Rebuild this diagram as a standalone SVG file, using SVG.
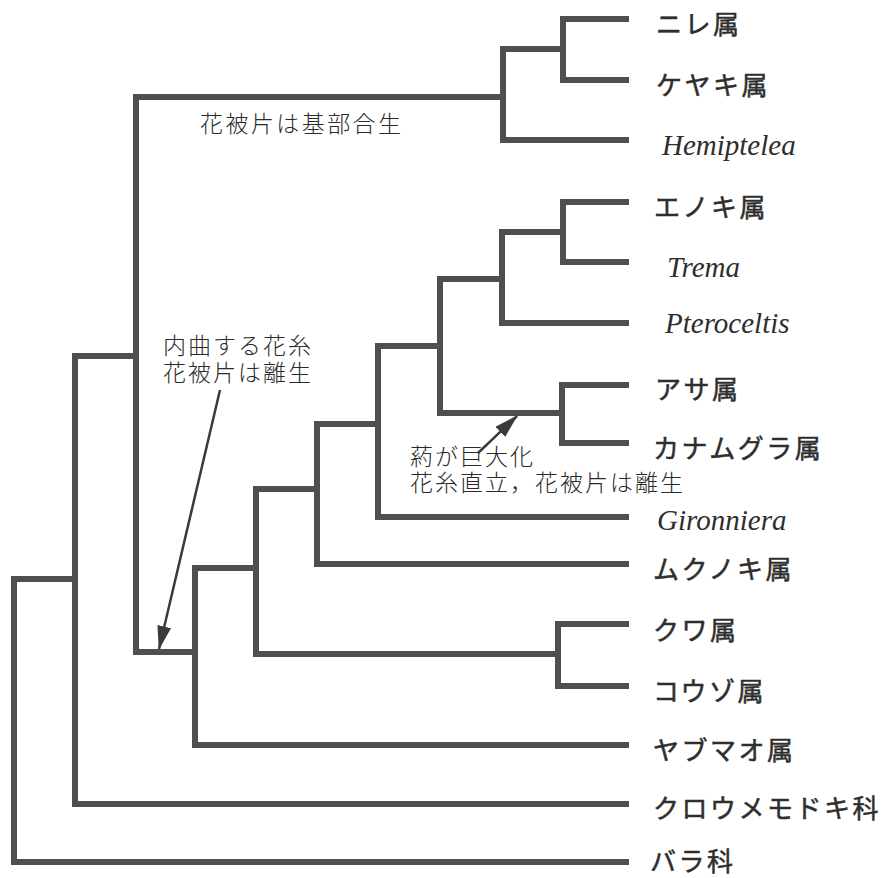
<svg xmlns="http://www.w3.org/2000/svg" width="887" height="878" viewBox="0 0 887 878">
<style>
.br{fill:none;stroke:#4f4f4f;stroke-width:6;stroke-linejoin:miter;stroke-linecap:square}
.lf{font-family:"Noto Sans CJK JP","Noto Sans",sans-serif;font-size:26px;font-weight:400;fill:#2e2e2e;stroke:#2e2e2e;stroke-width:0.5px;letter-spacing:2.5px;dominant-baseline:central}
.it{font-family:"Liberation Serif","Times New Roman",serif;font-style:italic;font-size:29px;fill:#2e2e2e}
.an{font-family:"Noto Sans CJK JP",sans-serif;font-size:23px;font-weight:300;fill:#2a2a2a;letter-spacing:2px;dominant-baseline:central}
.ar{stroke:#3a3a3a;stroke-width:2.5;fill:none}
</style>
<defs>
<marker id="ah" viewBox="0 0 24 14" refX="23" refY="7" markerWidth="24" markerHeight="14" markerUnits="userSpaceOnUse" orient="auto">
<path d="M0,0 L24,7 L0,14 Z" fill="#3a3a3a"/>
</marker>
</defs>
<g id="connectors">
<path class="br" d="M626,862 H14 V579 H75"/>
<path class="br" d="M136,356 H75 V804 H626"/>
<path class="br" d="M503,97 H136 V652 H195"/>
<path class="br" d="M563,49 H503 V140 H626"/>
<path class="br" d="M626,19 H563 V80 H626"/>
<path class="br" d="M256,568 H195 V745 H626"/>
<path class="br" d="M317,489 H256 V654 H558"/>
<path class="br" d="M626,624 H558 V686 H626"/>
<path class="br" d="M378,424 H317 V564 H626"/>
<path class="br" d="M440,346 H378 V517 H626"/>
<path class="br" d="M502,279 H440 V413 H562"/>
<path class="br" d="M626,385 H562 V443 H626"/>
<path class="br" d="M563,232 H502 V323 H626"/>
<path class="br" d="M626,202 H563 V262 H626"/>
<line class="ar" x1="220" y1="390" x2="159" y2="649" marker-end="url(#ah)"/>
<line class="ar" x1="478" y1="453" x2="517" y2="416" marker-end="url(#ah)"/>
</g>
<g id="n-nire"><text class="lf" x="656" y="22">ニレ属</text></g>
<g id="n-keyaki"><text class="lf" x="656" y="83">ケヤキ属</text></g>
<g id="n-hemiptelea"><text class="it" x="662" y="155">Hemiptelea</text></g>
<g id="n-enoki"><text class="lf" x="654" y="205">エノキ属</text></g>
<g id="n-trema"><text class="it" x="667" y="277">Trema</text></g>
<g id="n-pteroceltis"><text class="it" x="665" y="333">Pteroceltis</text></g>
<g id="n-asa"><text class="lf" x="655" y="387">アサ属</text></g>
<g id="n-kanamugura"><text class="lf" x="653" y="446">カナムグラ属</text></g>
<g id="n-gironniera"><text class="it" x="657" y="530">Gironniera</text></g>
<g id="n-mukunoki"><text class="lf" x="653" y="567">ムクノキ属</text></g>
<g id="n-kuwa"><text class="lf" x="653" y="628">クワ属</text></g>
<g id="n-kouzo"><text class="lf" x="653" y="689">コウゾ属</text></g>
<g id="n-yabumao"><text class="lf" x="653" y="748">ヤブマオ属</text></g>
<g id="n-kuroumemodoki"><text class="lf" x="653" y="806">クロウメモドキ科</text></g>
<g id="n-bara"><text class="lf" x="650" y="859">バラ科</text></g>
<g id="a-top"><text class="an" x="200" y="122" textLength="203" lengthAdjust="spacing">花被片は基部合生</text></g>
<g id="a-left"><text class="an" x="163" y="344">内曲する花糸<tspan x="163" dy="27">花被片は離生</tspan></text></g>
<g id="a-mid"><text class="an" x="410" y="455">葯が巨大化<tspan x="410" dy="26">花糸直立，花被片は離生</tspan></text></g>
</svg>
